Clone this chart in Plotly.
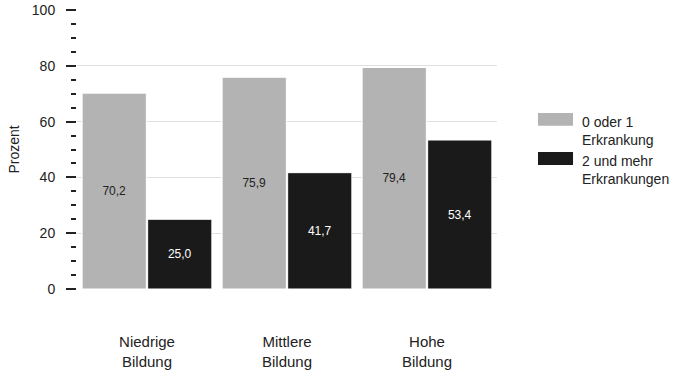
import plotly.graph_objects as go

categories = ["Niedrige<br>Bildung", "Mittlere<br>Bildung", "Hohe<br>Bildung"]
series_names = ["0 oder 1<br>Erkrankung", "2 und mehr<br>Erkrankungen"]
series_colors = ["#b3b3b3", "#1a1a1a"]
values_low = [70.2, 75.9, 79.4]
values_high = [25.0, 41.7, 53.4]
y_ticks = [0, 20, 40, 60, 80, 100]

def fmt(v):
    return f"{v:.1f}".replace(".", ",")

fig = go.Figure()
fig.add_trace(go.Bar(
    x=categories, y=values_low, name=series_names[0], showlegend=False,
    marker=dict(color=series_colors[0], line=dict(color="white", width=1)),
    text=[fmt(v) for v in values_low], textposition="inside", insidetextanchor="middle",
    textfont=dict(color="#222222", size=12), textangle=0,
))
fig.add_trace(go.Bar(
    x=categories, y=values_high, name=series_names[1], showlegend=False,
    marker=dict(color=series_colors[1], line=dict(color="white", width=1)),
    text=[fmt(v) for v in values_high], textposition="inside", insidetextanchor="middle",
    textfont=dict(color="white", size=12), textangle=0,
))

# legend drawn as swatches + text (paper coordinates)
legend_rows = [(0.631, 0.585), (0.491, 0.444)]
for (y1, y0), name, col in zip(legend_rows, series_names, series_colors):
    fig.add_shape(type="rect", xref="paper", yref="paper",
                  x0=1.0976, x1=1.181, y0=y0, y1=y1,
                  fillcolor=col, line=dict(width=0))
    fig.add_annotation(xref="paper", yref="paper", x=1.1976, y=y1 + 0.002,
                       xanchor="left", yanchor="top", text=name, showarrow=False,
                       align="left", font=dict(size=14, color="#222222"))

fig.update_layout(
    width=679, height=377,
    margin=dict(l=77, r=182, t=10, b=88),
    plot_bgcolor="white", paper_bgcolor="white",
    font=dict(family="Liberation Sans, Arial, sans-serif", color="#222222", size=14),
    barmode="group", bargap=0.064, bargroupgap=0.02,
    uniformtext=dict(minsize=12, mode="show"),
    showlegend=False,
    xaxis=dict(showline=False, ticks="", ticklabelstandoff=42, automargin=False,
               tickfont=dict(size=15)),
    yaxis=dict(range=[0, 100], tickvals=y_ticks, ticks="outside", ticklen=10,
               tickwidth=2, tickcolor="#222222", showgrid=True, gridcolor="#e0e0e0",
               gridwidth=1, zeroline=False, showline=False, tickfont=dict(size=14),
               automargin=False, ticklabelstandoff=8,
               title=dict(text="Prozent", font=dict(size=14), standoff=8),
               minor=dict(dtick=5, ticks="outside", ticklen=5, tickwidth=2,
                          tickcolor="#222222", showgrid=False)),
)

fig.write_html("out.html", config={"displayModeBar": False},
               post_script="document.body.style.margin='0';document.body.style.overflow='hidden';")
